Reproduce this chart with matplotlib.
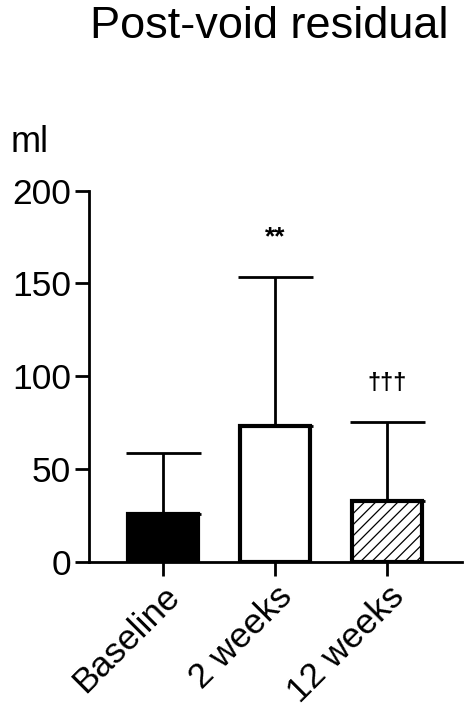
import numpy as np
import matplotlib.pyplot as plt

# values (ml)
groups = ['Baseline', '2 weeks', '12 weeks']
means = [25.5, 73, 32.5]
sd_upper = [33, 80.5, 43]
marks = ['', '**', '\u2020\u2020\u2020']
mark_y = [0, 175, 96]

plt.rcParams['font.family'] = ['Liberation Sans', 'DejaVu Sans']
plt.rcParams['hatch.linewidth'] = 0.9

fig = plt.figure(figsize=(4.74, 7.05), dpi=100)
ax = fig.add_axes([0.188, 0.2033, 0.787, 0.5262])

x = np.arange(len(groups))
face = ['black', 'white', 'white']
hatch = [None, None, '///']

ax.errorbar(x, means, yerr=[np.zeros(len(x)), sd_upper], fmt='none',
            ecolor='black', elinewidth=2, capsize=27, capthick=2, zorder=1)
for i in range(len(x)):
    ax.bar(x[i], means[i], width=0.625, color=face[i], edgecolor='black',
           linewidth=3, hatch=hatch[i], zorder=2)

for i in range(len(x)):
    if marks[i]:
        ax.text(x[i], mark_y[i], marks[i], ha='center', va='center',
                fontsize=19 if marks[i] == '**' else 17, fontweight='bold')

ax.set_xlim(-0.66, 2.67)
ax.set_ylim(0, 200)
ax.set_yticks([0, 50, 100, 150, 200])
ax.set_xticks(x)
ax.set_xticklabels(groups, rotation=45, ha='right', rotation_mode='anchor')
ax.tick_params(labelsize=25.5, width=2, length=10, pad=3)

for s in ['top', 'right']:
    ax.spines[s].set_visible(False)
for s in ['left', 'bottom']:
    ax.spines[s].set_linewidth(2)

fig.text(0.022, 0.798, 'ml', fontsize=26, ha='left', va='center')
fig.text(0.19, 0.962, 'Post-void residual', fontsize=32.5, ha='left', va='center')

fig.savefig('out.png', dpi=100)
